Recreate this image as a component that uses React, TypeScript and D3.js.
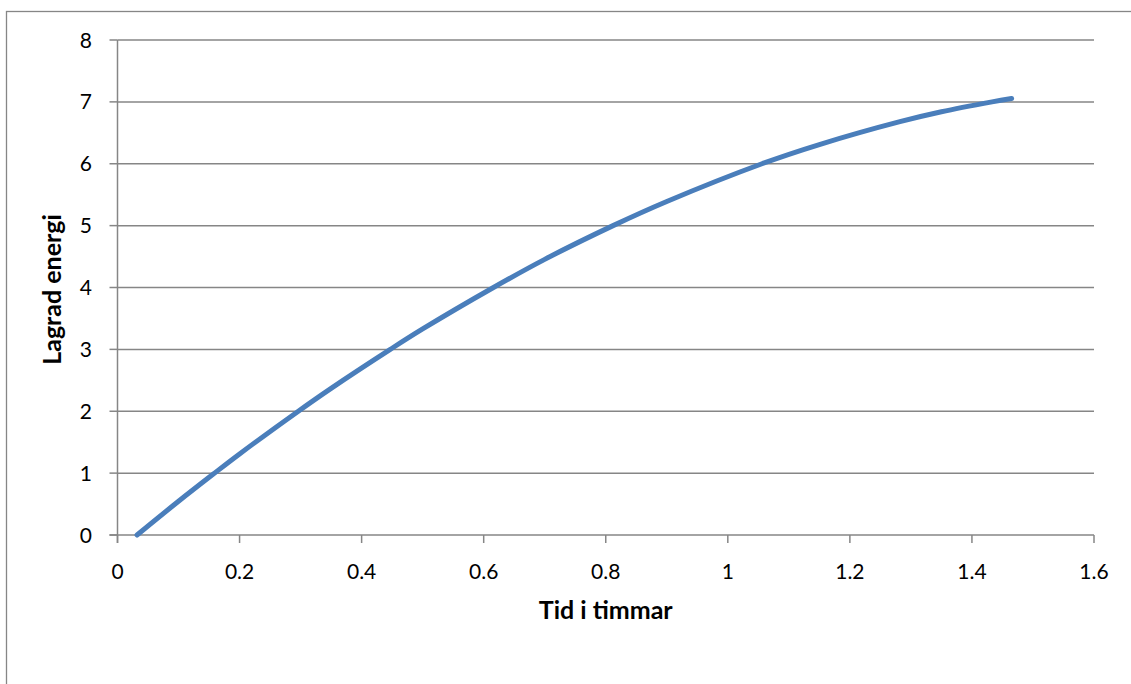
import React from "react";
import * as d3 from "d3";

// Stored energy over time (hours), sampled along the curve
const timeHours = [0.032, 0.1, 0.157, 0.2, 0.294, 0.35, 0.447, 0.5, 0.616, 0.7, 0.812, 0.9, 1.056, 1.15, 1.282, 1.35, 1.433, 1.465];
const storedEnergy = [0, 0.545, 0.985, 1.31, 1.985, 2.37, 3.0, 3.33, 4.0, 4.455, 5.0, 5.39, 6.0, 6.31, 6.68, 6.84, 7.0, 7.055];

const xTicks = [0, 0.2, 0.4, 0.6, 0.8, 1, 1.2, 1.4, 1.6];
const yTicks = [0, 1, 2, 3, 4, 5, 6, 7, 8];

const xTitle = "Tid i timmar";
const yTitle = "Lagrad energi";

const W = 1131;
const H = 684;
const plot = { left: 117.5, right: 1094, top: 40, bottom: 535 };
const gridColor = "#868686";
const lineColor = "#4A7EBB";
const font = "Lato, 'Open Sans', 'DejaVu Sans', sans-serif";

export default function App() {
  const x = d3.scaleLinear().domain([0, 1.6]).range([plot.left, plot.right]);
  const y = d3.scaleLinear().domain([0, 8]).range([plot.bottom, plot.top]);

  const points: [number, number][] = timeHours.map((t, i) => [t, storedEnergy[i]]);
  const line = d3
    .line<[number, number]>()
    .x((d) => x(d[0]))
    .y((d) => y(d[1]))
    .curve(d3.curveCatmullRom.alpha(0.5));

  const fmt = (v: number) => (v === 0 ? "0" : String(v));

  return (
    <svg
      width={W}
      height={H}
      style={{ position: "absolute", left: 0, top: 0, background: "#fff" }}
    >
      {/* chart frame */}
      <rect x={6.5} y={11.5} width={W + 20} height={H + 20} fill="#fff" stroke={gridColor} strokeWidth={1.3} />

      {/* horizontal gridlines */}
      {yTicks.filter((v) => v > 0).map((v) => (
        <line key={"g" + v} x1={plot.left} x2={plot.right} y1={y(v)} y2={y(v)} stroke={gridColor} strokeWidth={1.5} />
      ))}

      {/* y axis with ticks */}
      <line x1={plot.left} x2={plot.left} y1={plot.top} y2={plot.bottom + 8} stroke={gridColor} strokeWidth={1.5} />
      {yTicks.map((v) => (
        <line key={"yt" + v} x1={plot.left - 8} x2={plot.left} y1={y(v)} y2={y(v)} stroke={gridColor} strokeWidth={1.5} />
      ))}

      {/* x axis with ticks */}
      <line x1={plot.left - 8} x2={plot.right} y1={plot.bottom} y2={plot.bottom} stroke={gridColor} strokeWidth={1.5} />
      {xTicks.map((v) => (
        <line key={"xt" + v} x1={x(v)} x2={x(v)} y1={plot.bottom} y2={plot.bottom + 8} stroke={gridColor} strokeWidth={1.5} />
      ))}

      {/* tick labels */}
      {yTicks.map((v) => (
        <text key={"yl" + v} x={92} y={y(v)} dy="0.36em" textAnchor="end" fontFamily={font} fontSize={21} fill="#000">
          {fmt(v)}
        </text>
      ))}
      {xTicks.map((v) => (
        <text key={"xl" + v} x={x(v)} y={579} textAnchor="middle" fontFamily={font} fontSize={21} fill="#000">
          {fmt(v)}
        </text>
      ))}

      {/* axis titles */}
      <text x={(plot.left + plot.right) / 2} y={619} textAnchor="middle" fontFamily={font} fontWeight="bold" fontSize={25} fill="#000">
        {xTitle}
      </text>
      <text
        transform={`translate(61, ${(plot.top + plot.bottom) / 2 + 2}) rotate(-90)`}
        textAnchor="middle"
        fontFamily={font}
        fontWeight="bold"
        fontSize={25}
        fill="#000"
      >
        {yTitle}
      </text>

      {/* data series */}
      <path d={line(points) || ""} fill="none" stroke={lineColor} strokeWidth={5} strokeLinecap="round" strokeLinejoin="round" />
    </svg>
  );
}
